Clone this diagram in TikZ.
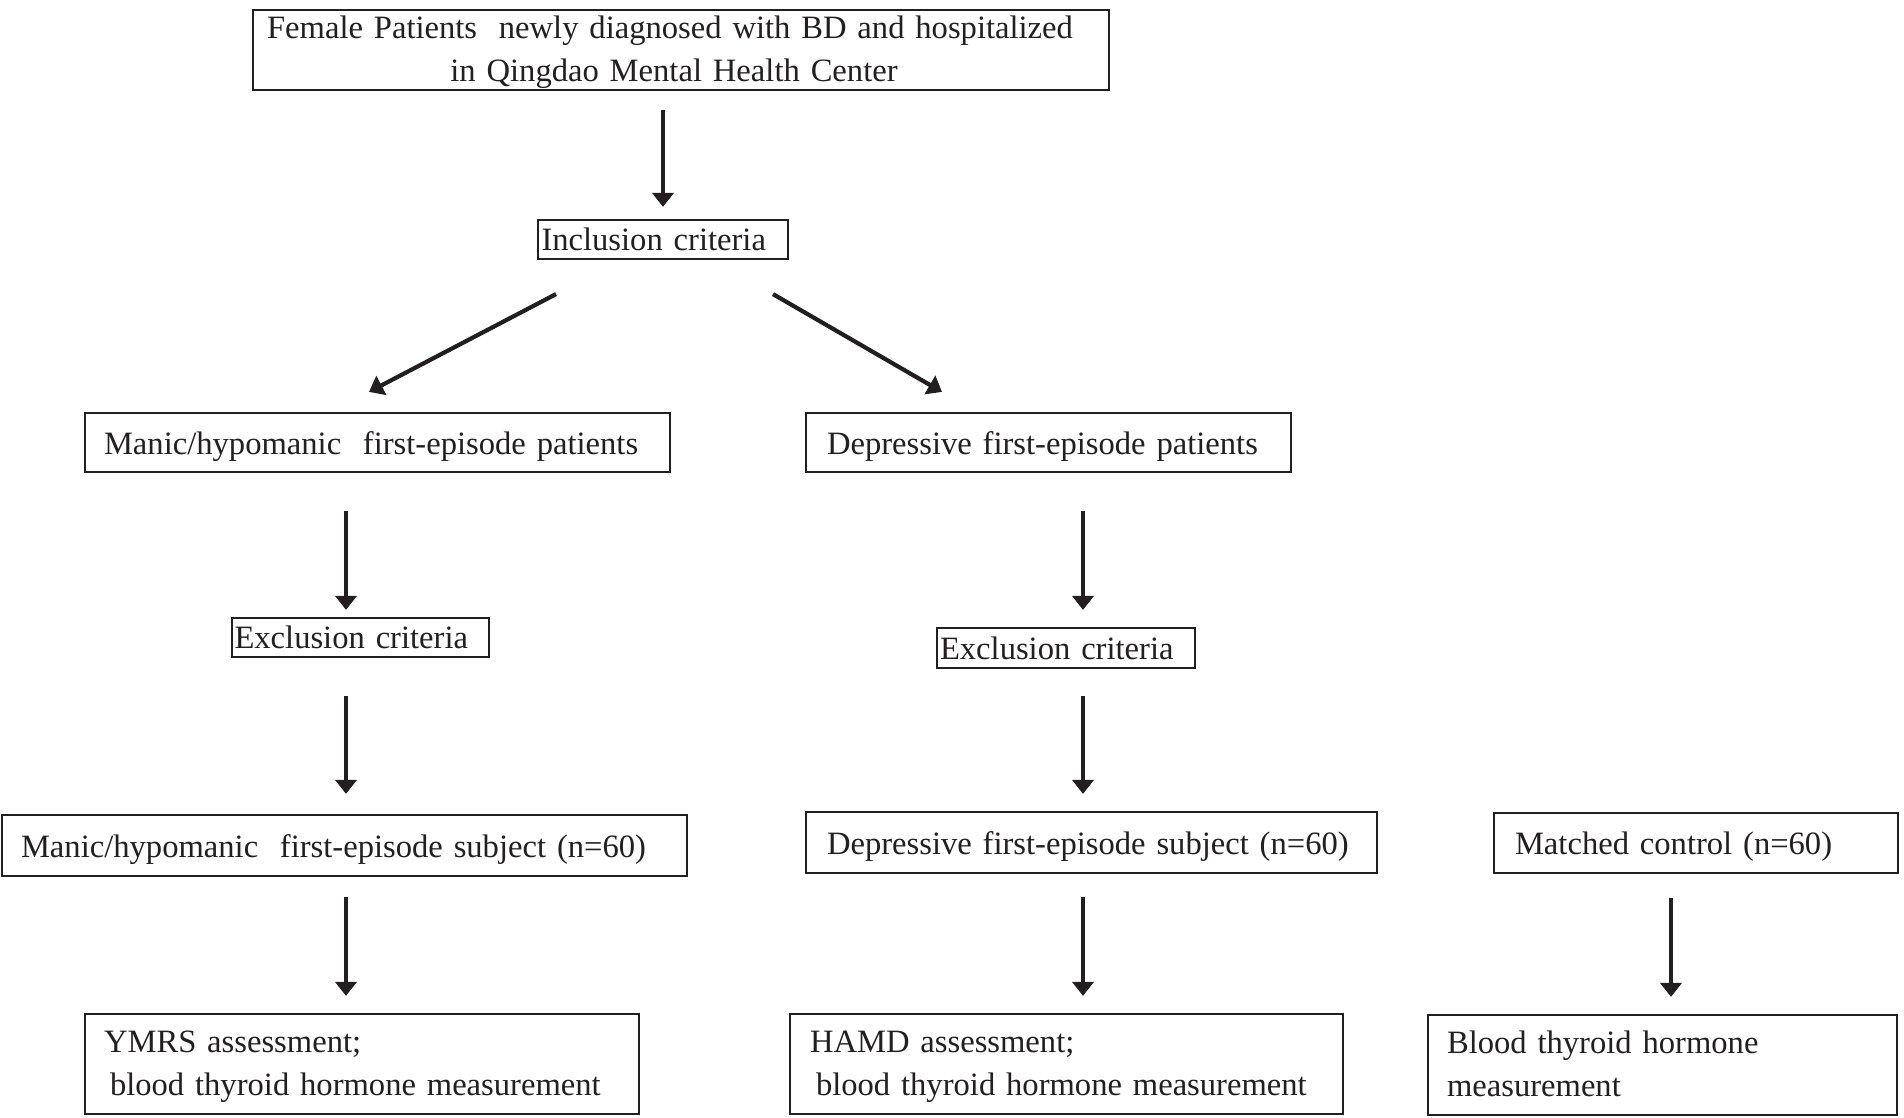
\documentclass[tikz,border=0pt]{standalone}
\usepackage{fontspec}
\setmainfont{Liberation Serif}
\usetikzlibrary{arrows.meta,calc}
\definecolor{ink}{HTML}{231F20}
\tikzset{
  box/.style={draw=ink, line width=2.2pt, inner ysep=0pt, text=ink, align=left,
    font=\fontsize{32.6}{42.5}\selectfont},
  oneline/.style={text height=30.5pt, text depth=7pt},
  twoline/.style={text height=26.5pt, text depth=49.5pt},
  arr/.style={draw=ink, line width=4.2pt, -{Triangle[width=21pt,length=14pt]}}
}
\begin{document}
\begin{tikzpicture}[x=1pt,y=-1pt]
\useasboundingbox (0,0) rectangle (1904,1117);
\node[box, twoline, align=center, minimum height=80pt, inner xsep=10pt, text width=836pt] (top) at (681,50)
  {Female Patients\ \ newly diagnosed with BD and hospitalized\kern22pt\relax\\ in Qingdao Mental Health Center\kern14pt\relax};
\node[box, minimum height=39pt, inner xsep=3.5pt, text width=243pt] (incl) at (663,239.5) {Inclusion criteria};
\node[box, oneline, minimum height=59pt, inner xsep=19pt, text width=547pt] (manic) at (377.5,442.5) {Manic/hypomanic\ \ first-episode patients};
\node[box, oneline, minimum height=59pt, inner xsep=21pt, text width=443pt] (dep) at (1048.5,442.5) {Depressive first-episode patients};
\node[box, minimum height=39pt, inner xsep=2.5pt, text width=252pt] (exclL) at (360.5,637.5) {Exclusion criteria};
\node[box, minimum height=40pt, inner xsep=3pt, text width=252pt] (exclR) at (1066,648) {Exclusion criteria};
\node[box, oneline, minimum height=61pt, inner xsep=19pt, text width=647pt] (manS) at (344.5,845.5) {Manic/hypomanic\ \ first-episode subject (n=60)};
\node[box, oneline, minimum height=61pt, inner xsep=21pt, text width=529pt] (depS) at (1091.5,842.5) {Depressive first-episode subject (n=60)};
\node[box, oneline, minimum height=60pt, inner xsep=21pt, text width=362pt] (match) at (1696,843) {Matched control (n=60)};
\node[box, twoline, minimum height=100pt, inner xsep=19pt, text width=516pt] (ymrs) at (362,1064) {YMRS assessment;\\\hspace*{6pt}blood thyroid hormone measurement};
\node[box, twoline, minimum height=100pt, inner xsep=20pt, text width=513pt] (hamd) at (1066.5,1064) {HAMD assessment;\\\hspace*{6pt}blood thyroid hormone measurement};
\node[box, twoline, minimum height=100pt, inner xsep=19pt, text width=431pt] (blood) at (1662.5,1065) {Blood thyroid hormone\\measurement};

\draw[arr] ($(top.south)+(-18,19)$) -- ($(incl.north)+(0,-12)$);
\draw[arr] ($(incl.south)+(-107,34)$) -- ($(manic.north)+(-8.5,-20)$);
\draw[arr] ($(incl.south)+(110,34)$) -- ($(dep.north)+(-106.5,-20)$);
\draw[arr] ($(manic.south)+(-31.5,38)$) -- ($(exclL.north)+(-14.5,-7)$);
\draw[arr] ($(dep.south)+(34.5,38)$) -- ($(exclR.north)+(17,-17)$);
\draw[arr] ($(exclL.south)+(-14.5,38)$) -- ($(manS.north)+(1.5,-20)$);
\draw[arr] ($(exclR.south)+(17,27)$) -- ($(depS.north)+(-8.5,-17)$);
\draw[arr] ($(manS.south)+(1.5,20)$) -- ($(ymrs.north)+(-16,-17)$);
\draw[arr] ($(depS.south)+(-8.5,23)$) -- ($(hamd.north)+(16.5,-17)$);
\draw[arr] ($(match.south)+(-25,24)$) -- ($(blood.north)+(8.5,-17)$);
\end{tikzpicture}
\end{document}
